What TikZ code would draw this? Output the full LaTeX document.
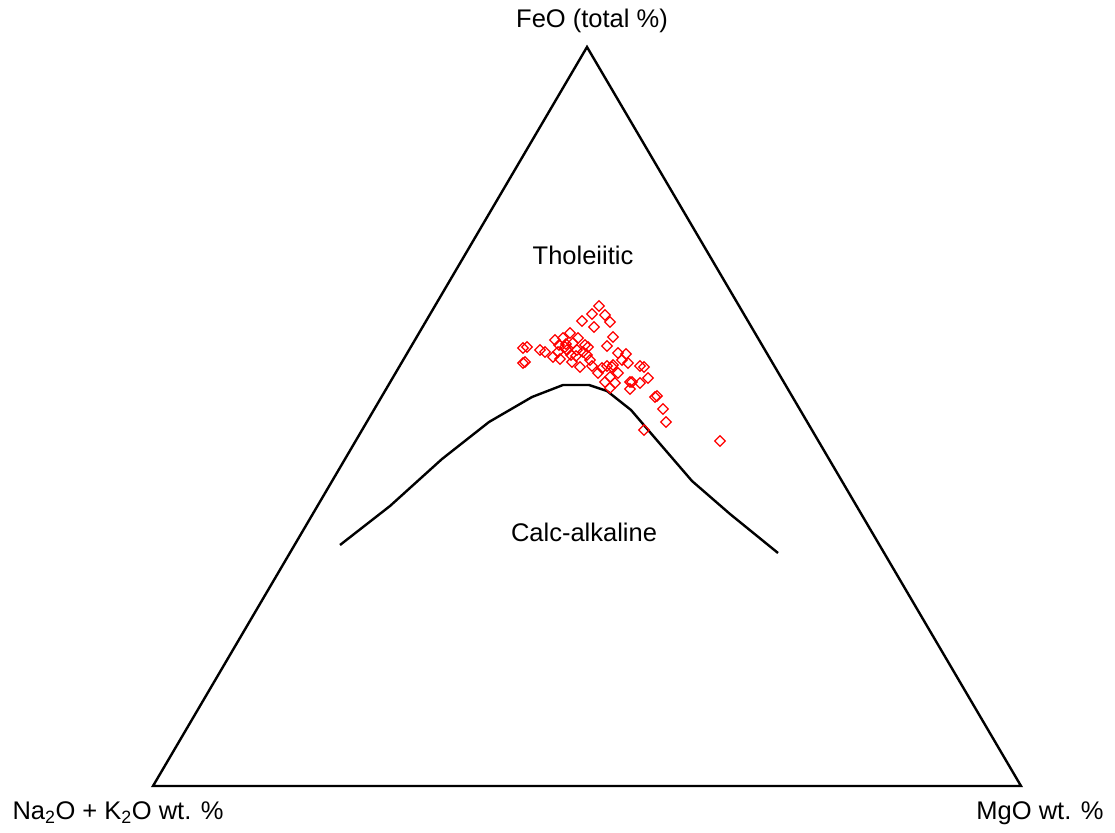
\documentclass[tikz,border=0pt]{standalone}
\usepackage{fontspec}
\setmainfont{Liberation Sans}
\usetikzlibrary{shapes.geometric}
\definecolor{cpt}{HTML}{FF0000}
\tikzset{
  ax/.style={draw=black, line width=2.4pt, line join=miter},
  bnd/.style={draw=black, line width=2.4pt, line join=round},
  apx/.style={font=\fontsize{25.5}{30}\selectfont, inner sep=0pt},
  fld/.style={font=\fontsize{25.5}{30}\selectfont, inner sep=0pt},
  smp/.style={diamond, draw=cpt, line width=1.3pt, fill=none, inner sep=0pt,
              minimum width=11pt, minimum height=11pt}
}

\begin{document}
\begin{tikzpicture}[x=1pt,y=-1pt]
\useasboundingbox (0,0) rectangle (1115,832);

% vertices of the ternary plot
\coordinate (na) at (153,786);
\coordinate (mg) at (1021,786);
\coordinate (fe) at (587,47);
\draw[ax] (na) -- (mg) -- (fe) -- cycle;

\node[apx] (lfe) at (592,21) {FeO (total \%)};
\node[apx] (lna) at (118,813) {Na\textsubscript{2}O + K\textsubscript{2}O wt. \%};
\node[apx] (lmg) at (1040,813) {MgO wt. \%};

% tholeiitic / calc-alkaline boundary
\draw[bnd] (340,545) -- (390,506) -- (442,459) -- (489,422) -- (532,397)
  -- (563,385) -- (589,385) -- (607,391) -- (631,410) -- (661,445)
  -- (692,481) -- (730,514) -- (778,553);

\node[fld] (tho) at (583,255) {Tholeiitic};
\node[fld] (cal) at (584,532) {Calc-alkaline};

% samples
\foreach \px/\py [count=\k] in {599/306,592/314,582/321,605/315,610/322,594/327,
  613/337,607/346,570/333,555/340,563/338,578/338,585/345,573/343,559/345,
  567/350,577/350,588/347,587/355,558/352,560/359,572/362,580/367,590/360,
  592/366,598/373,607/366,613/365,618/353,626/354,622/360,628/363,618/373,
  610/377,605/382,615/383,610/388,630/382,630/389,640/383,640/366,644/367,
  648/378,655/397,657/396,663/409,666/422,644/430,720/441,527/347,523/348,
  525/362,523/363,540/350,545/352,553/357,566/344,571/355,583/352,602/368,
  612/367,632/382,576/356,565/347}
  \node[smp] (s\k) at (\px,\py) {};

\end{tikzpicture}
\end{document}
